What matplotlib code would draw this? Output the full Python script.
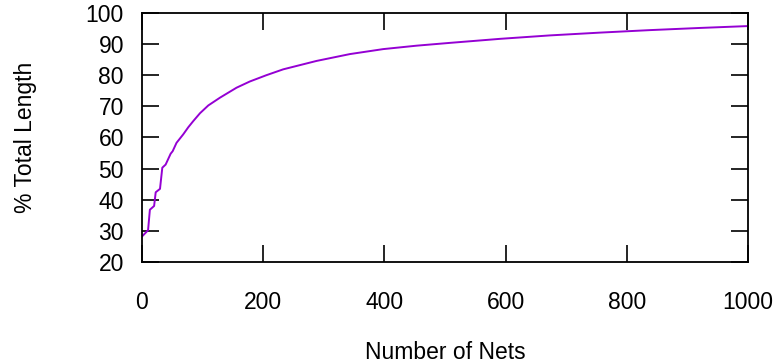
import matplotlib
matplotlib.use("Agg")
import matplotlib.pyplot as plt

# Data
nets = [0, 10, 13, 20, 22.6, 29.7, 33.5, 39, 47.3, 50.6, 57, 68, 76.4, 84.7, 95.7,
        109.4, 128.7, 156, 178, 205, 233, 288, 343, 398, 453, 508, 591, 673, 756, 838, 921, 1000]
pct = [28.2, 30.2, 36.8, 38.0, 42.4, 43.5, 50.3, 51.3, 54.8, 55.6, 58.3, 61.0, 63.3, 65.3, 67.8,
       70.3, 72.8, 76.0, 78.0, 80.0, 81.9, 84.6, 86.8, 88.4, 89.5, 90.4, 91.7, 92.8, 93.7, 94.5, 95.2, 95.8]

xticks = [0, 200, 400, 600, 800, 1000]
yticks = [20, 30, 40, 50, 60, 70, 80, 90, 100]

plt.rcParams['font.family'] = ['Liberation Sans', 'DejaVu Sans']

fig = plt.figure(figsize=(7.76, 3.64), dpi=100)
ax = fig.add_axes([142/776, (364-262)/364, (748-142)/776, (262-13)/364])

ax.plot(nets, pct, color='#9400D3', linewidth=1.4)

ax.set_xlim(0, 1000)
ax.set_ylim(20, 100)
ax.set_xticks(xticks)
ax.set_yticks(yticks)
ax.set_xticklabels([str(t) for t in xticks])
ax.set_yticklabels([str(t) for t in yticks])

for s in ax.spines.values():
    s.set_linewidth(1.3)
    s.set_color('black')

ax.tick_params(axis='both', direction='in', length=12.5, width=1.2,
               top=True, right=True, labelsize=16.5)
ax.tick_params(axis='x', pad=21)
ax.tick_params(axis='y', pad=13)

ax.set_xlabel('Number of Nets', fontsize=16.5, labelpad=19)
ax.set_ylabel('% Total Length', fontsize=16.5, labelpad=35)

fig.savefig('out.png', dpi=100)
